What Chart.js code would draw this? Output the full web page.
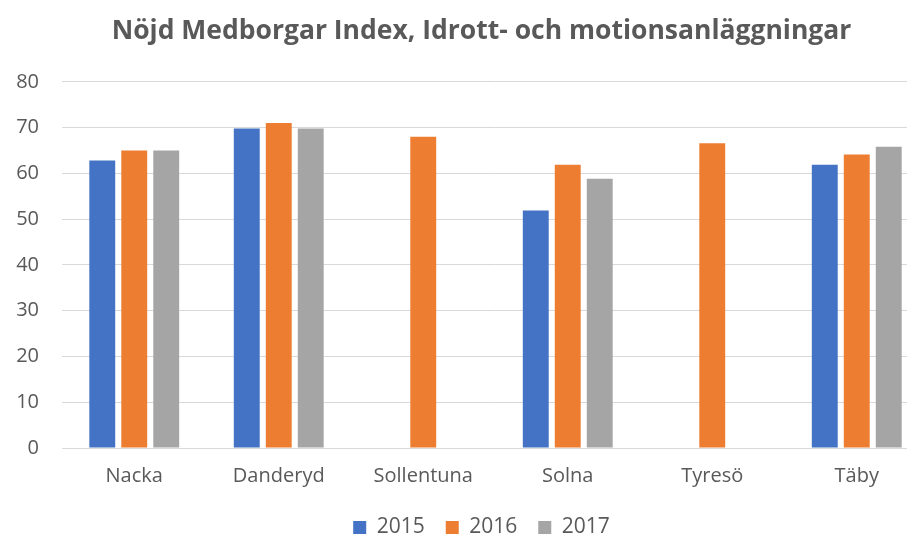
<!DOCTYPE html>
<html>
<head>
<meta charset="utf-8">
<script src="https://cdn.jsdelivr.net/npm/chart.js@4"></script>
<style>
  html, body { margin: 0; padding: 0; background: #fff; overflow: hidden; }
  #wrap { width: 907px; height: 536px; overflow: hidden; }
</style>
</head>
<body>
<div id="wrap"><canvas id="nmiChart" width="962" height="548"></canvas></div>
<script>
const kommuner = ['Nacka', 'Danderyd', 'Sollentuna', 'Solna', 'Tyresö', 'Täby']
const values2015 = [62.8, 69.8, null, 51.9, null, 61.9]
const values2016 = [65.0, 71.0, 68.0, 61.9, 66.6, 64.1]
const values2017 = [65.0, 69.8, null, 58.8, null, 65.8]

const textColor = '#595959'
const ctx = document.getElementById('nmiChart').getContext('2d')

function dataset(label, data, color) {
  return {
    label: label,
    data: data,
    backgroundColor: color,
    borderColor: color,
    borderWidth: 0,
    barPercentage: 0.81,
    categoryPercentage: 0.664
  }
}

new Chart(ctx, {
  type: 'bar',
  data: {
    labels: kommuner,
    datasets: [
      dataset('2015', values2015, '#4472c4'),
      dataset('2016', values2016, '#ed7d31'),
      dataset('2017', values2017, '#a5a5a5')
    ]
  },
  options: {
    responsive: false,
    animation: false,
    layout: { padding: { left: 14, right: 13, top: 0, bottom: 0 } },
    plugins: {
      title: {
        display: true,
        text: 'Nöjd Medborgar Index, Idrott- och motionsanläggningar',
        color: textColor,
        font: { family: 'Open Sans', size: 26.5, weight: 'bold' },
        padding: { top: 16, bottom: 34 }
      },
      legend: {
        position: 'bottom',
        labels: {
          color: textColor,
          font: { family: 'Open Sans', size: 21 },
          boxWidth: 13,
          boxHeight: 13,
          padding: 21
        }
      },
      tooltip: { enabled: false }
    },
    scales: {
      x: {
        grid: { display: false },
        border: { color: '#d9d9d9', width: 1 },
        ticks: {
          color: textColor,
          font: { family: 'Open Sans', size: 20 },
          padding: 8
        },
        afterFit: scale => {
          scale.paddingLeft = 0
          scale.paddingRight = 0
        }
      },
      y: {
        min: 0,
        max: 80,
        ticks: {
          stepSize: 10,
          color: textColor,
          font: { family: 'Open Sans', size: 20 },
          padding: 23
        },
        grid: { color: '#d9d9d9', lineWidth: 1, drawTicks: false },
        border: { display: false },
        afterFit: scale => {
          scale.width = 48
        }
      },
      // empty right axis, only keeps room on the right side
      yRight: {
        position: 'right',
        ticks: { display: false },
        grid: { display: false },
        border: { display: false },
        afterFit: scale => {
          scale.width = 20
        }
      }
    }
  }
})
</script>
</body>
</html>
